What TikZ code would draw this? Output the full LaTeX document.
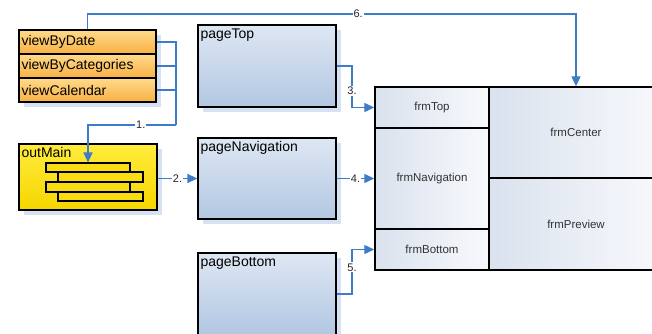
\documentclass[tikz,border=0pt]{standalone}
\usepackage{fontspec}
\setmainfont{Liberation Sans}
\usetikzlibrary{arrows.meta}
\definecolor{connc}{RGB}{61,124,201}
\definecolor{shadowc}{RGB}{214,226,242}
\definecolor{orangeT}{RGB}{255,218,140}
\definecolor{orangeB}{RGB}{248,176,66}
\definecolor{yellowT}{RGB}{255,236,60}
\definecolor{yellowB}{RGB}{246,214,0}
\definecolor{blueT}{RGB}{222,231,243}
\definecolor{blueB}{RGB}{178,199,226}
\definecolor{frameL}{RGB}{218,226,238}
\definecolor{frameR}{RGB}{248,249,252}
\tikzset{
  box/.style={draw=black, line width=1.3pt, inner sep=0pt},
  rowbox/.style={box, minimum width=137pt, minimum height=24pt, top color=orangeT, bottom color=orangeB,
     text width=132pt, align=left, font=\fontsize{14}{16}\selectfont},
  pagebox/.style={box, minimum width=138pt, top color=blueT, bottom color=blueB},
  barbox/.style={draw=black, line width=1.1pt, fill=yellowB!70!yellowT, inner sep=0pt},
  cell/.style={draw=black, line width=1.4pt, inner sep=0pt, left color=frameL, right color=frameR,
     font=\fontsize{11.5}{13}\selectfont, text=black!80},
  title/.style={anchor=north west, inner xsep=3pt, inner ysep=4pt, font=\fontsize{14}{16}\selectfont},
  conn/.style={draw=connc, line width=1.3pt},
  arr/.style={conn, -{Triangle[length=10pt,width=9pt]}},
  lab/.style={fill=white, inner sep=1pt, font=\fontsize{11}{13}\selectfont, text=black!85}
}
\begin{document}
\begin{tikzpicture}[x=1pt,y=-1pt]
\useasboundingbox (0,0) rectangle (652,334);
\clip (0,0) rectangle (652,334);
% shadows
\fill[shadowc] (24,35) rectangle (161,107);
\fill[shadowc] (24,149) rectangle (162,215);
\fill[shadowc] (203,30) rectangle (341,112);
\fill[shadowc] (203,143) rectangle (341,224);
\fill[shadowc] (203,258) rectangle (341,340);
% left stack
\node[rowbox] (viewByDate) at (87.5,42) {viewByDate};
\node[rowbox] (viewByCategories) at (87.5,66) {viewByCategories};
\node[rowbox] (viewCalendar) at (87.5,90) {viewCalendar};
% outMain
\node[box, minimum width=138pt, minimum height=66pt, top color=yellowT, bottom color=yellowB] (outMain) at (88,177) {};
\node[title] (outMainLabel) at (outMain.north west) {outMain};
\node[barbox, minimum width=84pt, minimum height=9pt] (bar1) at (88,167.5) {};
\node[barbox, minimum width=85pt, minimum height=10pt] (bar2) at (100.5,177) {};
\node[barbox, minimum width=84pt, minimum height=10pt] (bar3) at (88,187) {};
\node[barbox, minimum width=85pt, minimum height=9pt] (bar4) at (100.5,196.5) {};
% pages
\node[pagebox, minimum height=82pt] (pageTop) at (267,66) {};
\node[title] (pageTopLabel) at (pageTop.north west) {pageTop};
\node[pagebox, minimum height=81pt] (pageNavigation) at (267,178.5) {};
\node[title] (pageNavigationLabel) at (pageNavigation.north west) {pageNavigation};
\node[pagebox, minimum height=82pt] (pageBottom) at (267,294) {};
\node[title] (pageBottomLabel) at (pageBottom.north west) {pageBottom};
% frame
\node[cell, minimum width=114pt, minimum height=41pt] (frmTop) at (432,107.5) {frmTop};
\node[cell, minimum width=114pt, minimum height=101pt] (frmNavigation) at (432,178.5) {frmNavigation};
\node[cell, minimum width=114pt, minimum height=41pt] (frmBottom) at (432,249.5) {frmBottom};
\node[cell, minimum width=174pt, minimum height=91pt] (frmCenter) at (576,132.5) {frmCenter};
\node[cell, minimum width=174pt, minimum height=92pt] (frmPreview) at (576,224) {frmPreview};
% connectors
\coordinate (j1) at (176,125);
\coordinate (top6) at (0,14);
\coordinate (k3) at (352,0);
\draw[conn] (viewByDate.east) -| (j1);
\draw[conn] (viewByCategories.east) -- (viewByCategories.east -| j1);
\draw[conn] (viewCalendar.east) -- (viewCalendar.east -| j1);
\draw[arr] (j1) -| node[lab, pos=0.2] {1.} (bar1.north);
\draw[arr] (outMain.east |- pageNavigation.west) -- node[lab] {2.} (pageNavigation.west);
\draw[arr] (pageTop.east) -| node[lab, pos=0.8] {3.} (k3 |- frmTop.west) -- (frmTop.west);
\draw[arr] (pageNavigation.east) -- node[lab] {4.} (frmNavigation.west);
\draw[arr] (pageBottom.east) -| node[lab, pos=0.8] {5.} (k3 |- frmBottom.west) -- (frmBottom.west);
\draw[arr] (viewByDate.north) |- node[lab, pos=0.777] {6.} (top6 -| frmCenter.north) -- (frmCenter.north);
\end{tikzpicture}
\end{document}
